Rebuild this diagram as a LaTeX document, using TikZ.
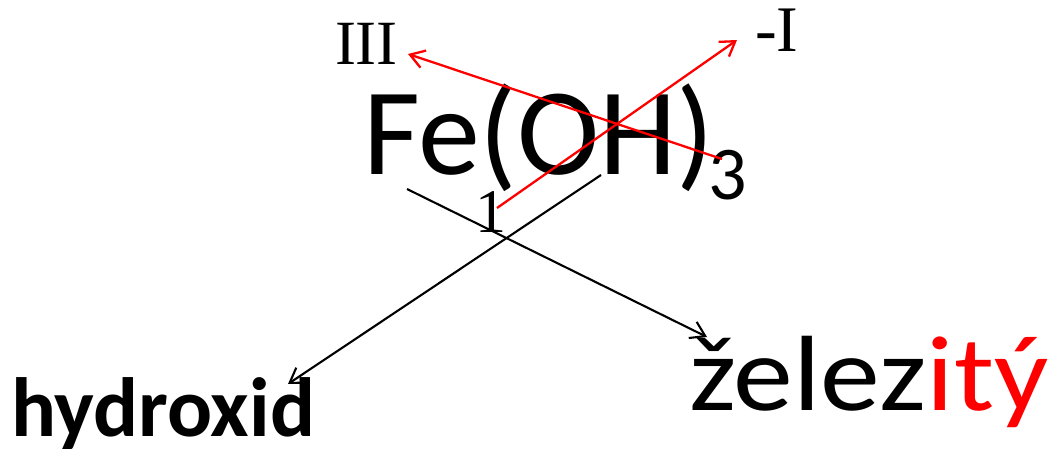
\documentclass[tikz,border=0pt]{standalone}
\usepackage{fontspec}
\setmainfont{Carlito}
\newfontfamily\seriffont{Liberation Serif}
\usetikzlibrary{arrows.meta}
\definecolor{pptred}{RGB}{255,0,0}
\tikzset{
  txt/.style={inner sep=0pt, outer sep=0pt},
  redarrow/.style={draw=pptred, line width=2.3pt, -{Straight Barb[length=14pt,width=18pt,line width=2.3pt]}},
  blackarrow/.style={draw=black, line width=2.1pt, -{Straight Barb[length=14pt,width=18pt,line width=2.1pt]}}
}
\begin{document}
\begin{tikzpicture}[x=1pt,y=-1pt]
\useasboundingbox (0,0) rectangle (1054,449);
% texts
\node[txt, anchor=base west] (feoh) at (363,175) {\fontsize{124}{130}\selectfont Fe(OH)};
\node[txt, anchor=base west] (sub3) at (708,200) {\fontsize{76}{80}\selectfont 3};
\node[txt, anchor=base west] (hyd) at (11,436) {\fontsize{84}{90}\selectfont\bfseries hydroxid};
\node[txt, anchor=base west, xscale=1.12, transform shape] (zel) at (689,410) {\fontsize{107}{110}\selectfont želez\textcolor{pptred}{itý}};
\node[txt, anchor=base west] (three) at (335,65) {\fontsize{63}{66}\selectfont\seriffont III};
\node[txt, anchor=base west] (minusone) at (755,52) {\fontsize{65}{68}\selectfont\seriffont -I};
\node[txt, anchor=base west] (one) at (475,232) {\fontsize{62}{66}\selectfont\seriffont 1};
% connector end points
\coordinate (r1s) at (722,159);
\coordinate (r1e) at (408,54);
\coordinate (r2s) at (497,208);
\coordinate (r2e) at (737,40);
\coordinate (b1s) at (407,189);
\coordinate (b1e) at (707,337);
\coordinate (b2s) at (601,175);
\coordinate (b2e) at (288,384);
% connectors
\draw[blackarrow] (b1s) -- (b1e);
\draw[blackarrow] (b2s) -- (b2e);
\draw[redarrow] (r1s) -- (r1e);
\draw[redarrow] (r2s) -- (r2e);
\end{tikzpicture}
\end{document}
